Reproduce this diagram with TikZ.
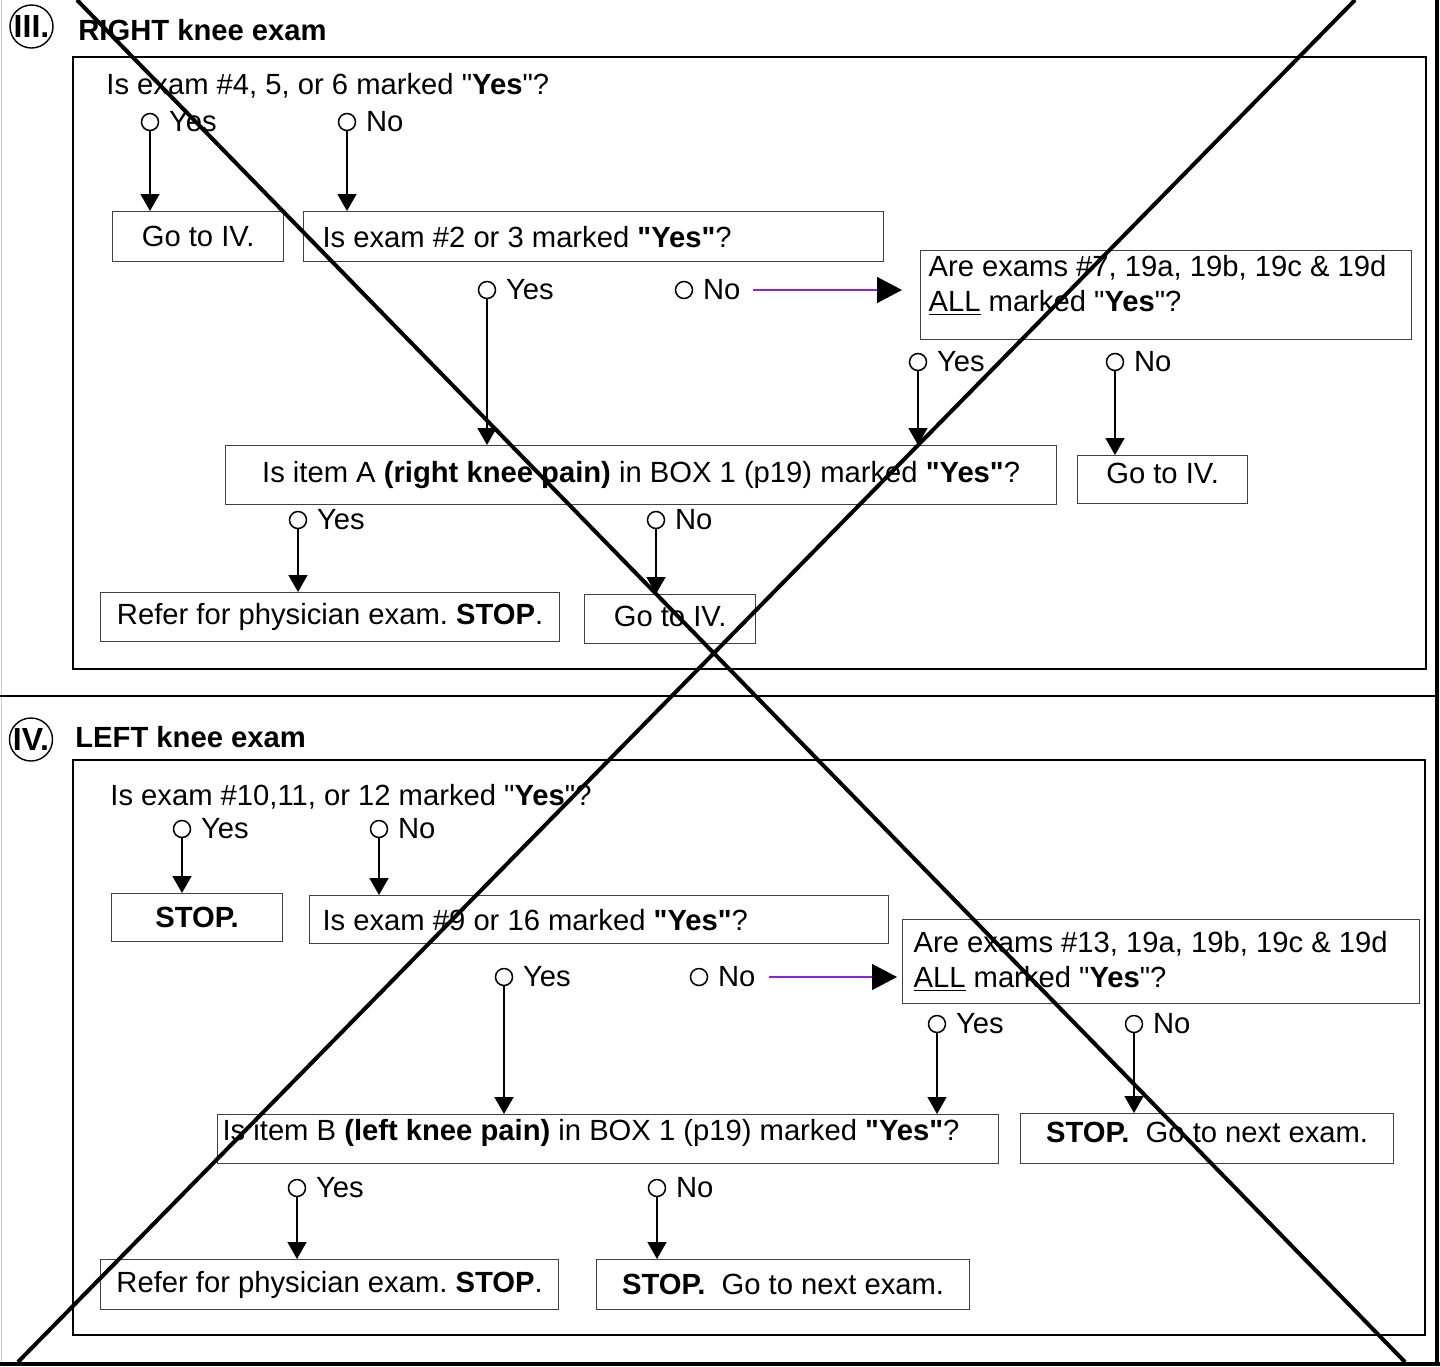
\documentclass[tikz,border=0pt]{standalone}
\usepackage{fontspec}
\setmainfont{Liberation Sans}[Ligatures=TeXOff]
\usetikzlibrary{arrows.meta,positioning,calc}
\definecolor{nolink}{RGB}{136,34,221}

\begin{document}
\begin{tikzpicture}[x=0.5pt, y=-0.5pt,
		font=\fontsize{14.6pt}{17.5pt}\selectfont\frenchspacing,
		radio/.style={draw, circle, line width=0.75pt, minimum size=8.5pt, inner sep=0pt},
		ans/.style={inner sep=0pt},
		ask/.style={anchor=west, inner sep=0pt},
		head/.style={anchor=west, inner sep=0pt, font=\fontsize{14.6pt}{17.5pt}\selectfont\bfseries},
		roman/.style={draw, circle, line width=0.7pt, minimum size=21.5pt, inner sep=0pt, font=\fontsize{16pt}{18pt}\selectfont\bfseries},
		qbox/.style={draw=black!75, line width=0.6pt, anchor=north west, inner sep=0pt},
		lbox/.style={qbox, align=flush left},
		cbox/.style={qbox, align=center},
		panel/.style={line width=0.9pt},
		arr/.style={line width=0.75pt, -{Triangle[width=9.5pt,length=8.5pt]}},
		jump/.style={nolink, line width=0.75pt, -{Triangle[width=13pt,length=12.5pt,color=black]}}]
	\useasboundingbox (0,0) rectangle (1440,1366);
	% page frame
	\draw[gray!40, line width=0.5pt] (1,0) -- (1,1366);
	\draw[line width=2pt] (1437,0) -- (1437,1366);
	\draw[line width=2pt] (0,1364) -- (1440,1364);
	\draw[line width=1pt] (0,696) -- (1437,696);

	% III
	\node[roman] (s3) at (31.5,26.5) {III.};
	\node[head] (h3) at (78,30) {RIGHT knee exam};
	\draw[panel] (73,57) rectangle (1426,669);
	\node[ask] (q4) at (106,86) {Is exam \#4, 5, or 6 marked "\textbf{Yes}"?};
	\node[radio] (r4y) at (150,122) {};
	\node[ans, right=4.75pt of r4y] (t4y) {Yes};
	\node[radio] (r4n) at (347,122) {};
	\node[ans, right=4.75pt of r4n] (t4n) {No};
	\node[cbox, minimum width=85.5pt, minimum height=25pt] (go1) at (112,211) {Go to IV.};
	\node[lbox, minimum height=25pt, inner xsep=9.5pt, text width=271pt] (q2) at (303,211) {Is exam \#2 or 3 marked \textbf{"Yes"}?};
	\node[radio] (r2y) at (487,290) {};
	\node[ans, right=4.75pt of r2y] (t2y) {Yes};
	\node[radio] (r2n) at (684,290) {};
	\node[ans, right=4.75pt of r2n] (t2n) {No};
	\node[lbox, minimum height=44.5pt, inner xsep=4pt, text width=237.5pt, text depth=29pt] (q7) at (920,250) {Are exams \#7, 19a, 19b, 19c \& 19d\\\underline{ALL} marked "\textbf{Yes}"?};
	\node[radio] (r7y) at (918,362) {};
	\node[ans, right=4.75pt of r7y] (t7y) {Yes};
	\node[radio] (r7n) at (1115,362) {};
	\node[ans, right=4.75pt of r7n] (t7n) {No};
	\node[cbox, minimum width=415.5pt, minimum height=29.5pt] (qa) at (225,445) {Is item A \textbf{(right knee pain)} in BOX 1 (p19) marked \textbf{"Yes"}?};
	\node[cbox, minimum width=85pt, minimum height=24pt, text depth=6pt] (go2) at (1077,455) {Go to IV.};
	\node[radio] (ray) at (298,520) {};
	\node[ans, right=4.75pt of ray] (tay) {Yes};
	\node[radio] (ran) at (656,520) {};
	\node[ans, right=4.75pt of ran] (tan) {No};
	\node[cbox, minimum width=229.5pt, minimum height=24.5pt] (ref1) at (100,592) {Refer for physician exam. \textbf{STOP}.};
	\node[cbox, minimum width=85.5pt, minimum height=24.5pt, text depth=3pt] (go3) at (584,594) {Go to IV.};

	\draw[arr] (r4y) -- (r4y |- go1.north);
	\draw[arr] (r4n) -- (r4n |- q2.north);
	\draw[arr] (r2y) -- (r2y |- qa.north);
	\draw[arr] (r7y) -- (r7y |- qa.north);
	\draw[arr] (r7n) -- (r7n |- go2.north);
	\draw[arr] (ray) -- (ray |- ref1.north);
	\draw[arr] (ran) -- (ran |- go3.north);
	\coordinate (j3) at ($(q7.west |- t2n)+(-9pt,0)$);
	\draw[jump] ([xshift=6pt]t2n.east) -- (j3);

	% IV
	\node[roman] (s4) at (31,739.5) {IV.};
	\node[head] (h4) at (75,737) {LEFT knee exam};
	\draw[panel] (73,760) rectangle (1425,1335);
	\node[ask] (q10) at (110,797) {Is exam \#10,11, or 12 marked "\textbf{Yes}"?};
	\node[radio] (r10y) at (182,829) {};
	\node[ans, right=4.75pt of r10y] (t10y) {Yes};
	\node[radio] (r10n) at (379,829) {};
	\node[ans, right=4.75pt of r10n] (t10n) {No};
	\node[cbox, minimum width=85.5pt, minimum height=24pt] (stop1) at (111,893) {\textbf{STOP.}};
	\node[lbox, minimum height=24pt, inner xsep=6.5pt, text width=276.5pt] (q9) at (309,895) {Is exam \#9 or 16 marked \textbf{"Yes"}?};
	\node[radio] (r9y) at (504,977) {};
	\node[ans, right=4.75pt of r9y] (t9y) {Yes};
	\node[radio] (r9n) at (699,977) {};
	\node[ans, right=4.75pt of r9n] (t9n) {No};
	\node[lbox, minimum height=42pt, inner xsep=5.5pt, text width=247.5pt] (q13) at (902,919) {Are exams \#13, 19a, 19b, 19c \& 19d\\\underline{ALL} marked "\textbf{Yes}"?};
	\node[radio] (r13y) at (937,1024) {};
	\node[ans, right=4.75pt of r13y] (t13y) {Yes};
	\node[radio] (r13n) at (1134,1024) {};
	\node[ans, right=4.75pt of r13n] (t13n) {No};
	\node[lbox, minimum height=24.5pt, inner xsep=2.5pt, text width=385.5pt, text depth=9pt] (qb) at (217,1114) {Is item B \textbf{(left knee pain)} in BOX 1 (p19) marked \textbf{"Yes"}?};
	\node[cbox, minimum width=186.5pt, minimum height=25pt, text depth=6pt] (stop2) at (1020,1113) {\textbf{STOP.}\ \ Go to next exam.};
	\node[radio] (rby) at (297,1188) {};
	\node[ans, right=4.75pt of rby] (tby) {Yes};
	\node[radio] (rbn) at (657,1188) {};
	\node[ans, right=4.75pt of rbn] (tbn) {No};
	\node[cbox, minimum width=229pt, minimum height=25pt] (ref2) at (100,1259) {Refer for physician exam. \textbf{STOP}.};
	\node[cbox, minimum width=186.5pt, minimum height=25pt] (stop3) at (596,1259) {\textbf{STOP.}\ \ Go to next exam.};

	\draw[arr] (r10y) -- (r10y |- stop1.north);
	\draw[arr] (r10n) -- (r10n |- q9.north);
	\draw[arr] (r9y) -- (r9y |- qb.north);
	\draw[arr] (r13y) -- (r13y |- qb.north);
	\draw[arr] (r13n) -- (r13n |- stop2.north);
	\draw[arr] (rby) -- (rby |- ref2.north);
	\draw[arr] (rbn) -- (rbn |- stop3.north);
	\coordinate (j4) at ($(q13.west |- t9n)+(-2.5pt,0)$);
	\draw[jump] ([xshift=6.5pt]t9n.east) -- (j4);

	% cross-out
	\draw[line width=2pt] (77,0) -- (1405,1362);
	\draw[line width=2pt] (1355,0) -- (18,1362);
\end{tikzpicture}
\end{document}
